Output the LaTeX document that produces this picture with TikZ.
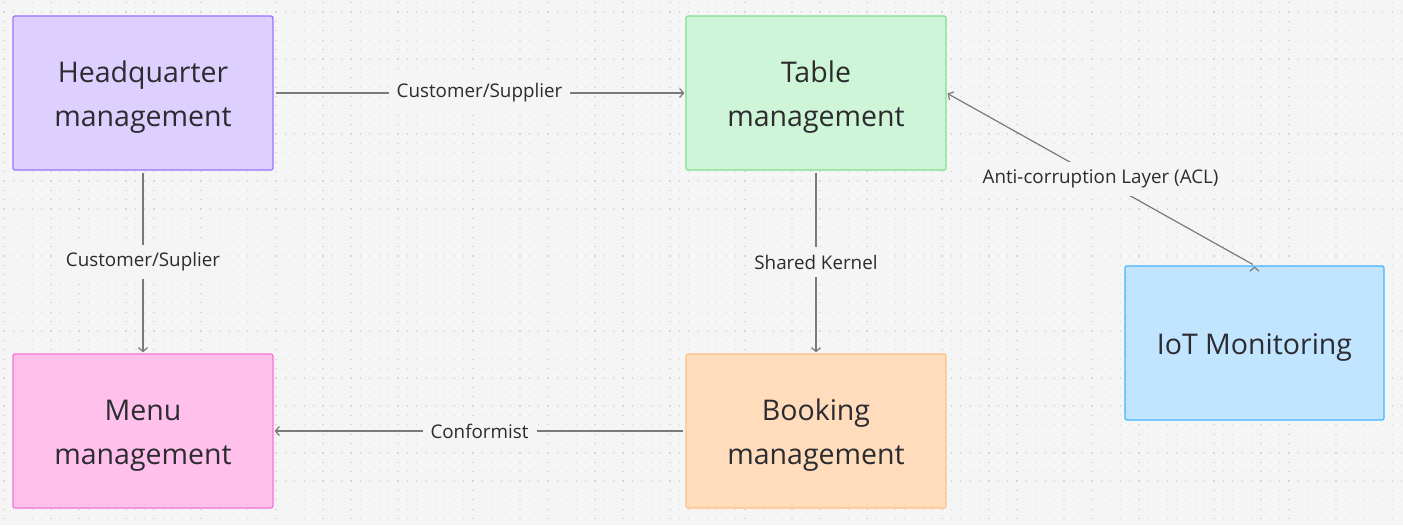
\documentclass[tikz,border=0pt]{standalone}
\usepackage{fontspec}
\setmainfont{Open Sans}
\usetikzlibrary{positioning,arrows.meta}

\definecolor{canvas}{HTML}{F5F5F5}
\definecolor{griddot}{HTML}{D6D6D6}
\definecolor{ink}{HTML}{2B2B30}
\definecolor{wire}{HTML}{7A7A7A}
\definecolor{hqfill}{HTML}{DDD0FF}\definecolor{hqdraw}{HTML}{9D70FF}
\definecolor{tbfill}{HTML}{CEF5D7}\definecolor{tbdraw}{HTML}{80DE8E}
\definecolor{mnfill}{HTML}{FFC0EC}\definecolor{mndraw}{HTML}{F272D6}
\definecolor{bkfill}{HTML}{FFDDBC}\definecolor{bkdraw}{HTML}{FFC184}
\definecolor{iofill}{HTML}{C2E5FF}\definecolor{iodraw}{HTML}{45B3FF}

\tikzset{
	context/.style={rectangle, rounded corners=2pt, line width=1.2pt, minimum width=260pt, minimum height=154pt,
		align=center, text=ink, font=\fontsize{28.5}{44}\selectfont, text height=74pt, text depth=8pt},
	single/.style={text height=28pt, text depth=6pt},
	relation/.style={draw=wire, line width=1.2pt, shorten <=2pt, shorten >=1pt, -{Straight Barb[length=4pt,width=9pt]}},
	tag/.style={fill=canvas, text=ink, inner sep=8pt, font=\fontsize{18.8}{20}\selectfont},
	dotrow/.style={griddot, line width=1.2pt, dash pattern=on 1.2pt off 8.18pt}
}

\begin{document}
\begin{tikzpicture}[x=1pt,y=-1pt,node distance=338pt,on grid]
	% canvas and dot grid
	\fill[canvas] (0,0) rectangle (1403,525);
	\useasboundingbox (0,0) rectangle (1403,525);
	\foreach \j in {0,...,55}
		\draw[dotrow] (3.4,2.7+\j*9.38) -- (1403,2.7+\j*9.38);

	\node[context, fill=hqfill, draw=hqdraw] (hq) at (143,93) {Headquarter\\management};
	\node[context, fill=tbfill, draw=tbdraw] (table) [right=673pt of hq] {Table\\management};
	\node[context, fill=mnfill, draw=mndraw] (menu) [below=of hq] {Menu\\management};
	\node[context, fill=bkfill, draw=bkdraw] (booking) [right=673pt of menu] {Booking\\management};
	\node[context, single, fill=iofill, draw=iodraw, minimum width=259pt] (iot) at (1254.5,343) {IoT Monitoring};

	\path[relation]	(hq)		edge	node[tag]	{Customer/Supplier} (table)
					(hq)		edge	node[tag]	{Customer/Suplier} (menu)
					(table)		edge	node[tag]	{Shared Kernel} (booking)
					(booking)	edge	node[tag]	{Conformist} (menu)
					(iot.north)	edge	node[tag]	{Anti-corruption Layer (ACL)} (table.east);
\end{tikzpicture}
\end{document}
